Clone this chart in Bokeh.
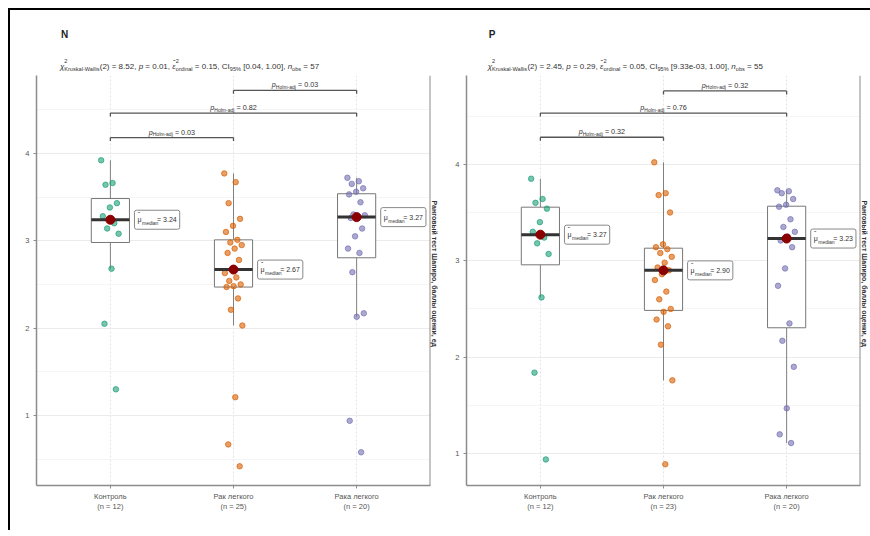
import math
import numpy as np
from bokeh.plotting import figure
from bokeh.models import Label, FixedTicker, Span, Title
from bokeh.layouts import row, column
from bokeh.embed import file_html
from bokeh.resources import INLINE

# ---------------- data ----------------
categories = ["Контроль", "Рак легкого", "Рака легкого"]
colors = ["#1B9E77", "#D95F02", "#7570B3"]

# panel N
n_control = [3.92, 3.66, 3.64, 3.43, 3.38, 3.28, 3.20, 3.14, 3.08, 2.68, 2.05, 1.30]
n_cancer = [3.77, 3.67, 3.43, 3.25, 3.17, 3.10, 3.01, 2.98, 2.95, 2.91, 2.86, 2.78, 2.67,
            2.63, 2.58, 2.54, 2.50, 2.48, 2.47, 2.34, 2.21, 2.03, 1.21, 0.67, 0.42]
n_cancer2 = [3.72, 3.68, 3.65, 3.60, 3.56, 3.53, 3.44, 3.30, 3.29, 3.28, 3.26, 3.14, 3.05,
             2.91, 2.86, 2.64, 2.17, 2.13, 0.94, 0.58]
n_pairs_p = ["0.03", "0.82", "0.03"]
n_stats = ["8.52", "0.01", "0.15", "[0.04, 1.00]", "57"]

# panel P
p_control = [3.85, 3.64, 3.60, 3.54, 3.40, 3.30, 3.24, 3.18, 3.07, 2.62, 1.84, 0.94]
p_cancer = [4.02, 3.70, 3.68, 3.50, 3.17, 3.14, 3.12, 3.08, 3.04, 2.98, 2.93, 2.90, 2.86,
            2.80, 2.68, 2.60, 2.50, 2.47, 2.39, 2.32, 2.13, 1.76, 0.89]
p_cancer2 = [3.73, 3.72, 3.70, 3.64, 3.58, 3.56, 3.43, 3.35, 3.30, 3.25, 3.21, 3.14, 2.92,
             2.74, 2.35, 2.17, 1.90, 1.47, 1.20, 1.11]
p_pairs_p = ["0.32", "0.76", "0.32"]
p_stats = ["2.45", "0.29", "0.05", "[9.33e-03, 1.00]", "55"]

pairs = [(1, 2), (1, 3), (2, 3)]
y_tick_values = [1, 2, 3, 4]
side_title = "Ранговый тест Шапиро, баллы оценки, ед"

FONT = "Liberation Sans"
NB = "\u00a0"

# Arial / Liberation Sans advance widths (per 1000 em)
AW = {' ': 278, '!': 278, '(': 333, ')': 333, ',': 278, '-': 333, '.': 278, '=': 584,
      '[': 278, ']': 278, '%': 889, ':': 278, NB: 278,
      'a': 556, 'b': 556, 'c': 500, 'd': 556, 'e': 556, 'f': 278, 'g': 556, 'h': 556,
      'i': 222, 'j': 222, 'k': 500, 'l': 222, 'm': 833, 'n': 556, 'o': 556, 'p': 556,
      'q': 556, 'r': 333, 's': 500, 't': 278, 'u': 556, 'v': 500, 'w': 722, 'x': 500,
      'y': 500, 'z': 500, 'A': 667, 'B': 667, 'C': 722, 'D': 722, 'E': 667, 'F': 611,
      'G': 778, 'H': 722, 'I': 278, 'K': 667, 'L': 556, 'M': 833, 'N': 722, 'O': 778,
      'P': 667, 'R': 722, 'S': 667, 'T': 611, 'W': 944, 'χ': 520, 'ε': 450, 'μ': 576}
for d in "0123456789":
    AW[d] = 556


def tw(s, size):
    return sum(AW.get(c, 556) for c in s) * size / 1000.0


def rich(p, x, y, pieces, size, ppu, align="left", color="#333333"):
    """Pieces of text with sub/superscripts; kinds: n, i, b, sub, sup, hat."""
    small = size * 0.7
    pieces = [(t.replace(" ", NB), k) for t, k in pieces]
    widths = []
    for t, k in pieces:
        s = small if k in ("sub", "sup") else size
        widths.append(0 if k in ("sup", "hat") else tw(t, s))
    total = sum(widths)
    off = -total / 2 if align == "center" else 0.0
    prev_w = 0.0
    for (t, k), w in zip(pieces, widths):
        s = small if k in ("sub", "sup") else size
        dy = {"sub": -0.28 * size, "sup": 0.75 * size, "hat": 0.45 * size}.get(k, 0.0)
        fs = "italic" if k == "i" else ("bold" if k == "b" else "normal")
        xo = off - prev_w * 0.8 if k == "hat" else off
        p.add_layout(Label(x=x, y=y + dy / ppu, x_offset=xo, text=t,
                           text_font=FONT, text_font_size=f"{s:.1f}px",
                           text_font_style=fs, text_color=color,
                           text_align="left", text_baseline="alphabetic"))
        off += w
        if k not in ("sup", "hat"):
            prev_w = w


def header(tag, stats, width, left):
    h_h = 65
    h = figure(width=width, height=h_h, x_range=(0, width), y_range=(0, h_h),
               x_axis_type=None, y_axis_type=None, toolbar_location=None,
               output_backend="svg", min_border=0)
    h.outline_line_color = None
    h.border_fill_color = "white"
    h.add_layout(Label(x=left + 1, y=h_h - 34 + 10, text=tag, text_font=FONT,
                       text_font_size="10px", text_font_style="bold", text_color="#222222",
                       text_baseline="alphabetic"))
    chi, pv, eps, ci, nobs = stats
    rich(h, left, h_h - 66 + 10,
         [("χ", "i"), ("2", "sup"), ("Kruskal-Wallis", "sub"), (f"(2) = {chi}, ", "n"),
          ("p", "i"), (f" = {pv}, ", "n"), ("ε", "i"), ("ˆ", "hat"), ("2", "sup"),
          ("ordinal", "sub"), (f" = {eps}, CI", "n"), ("95%", "sub"),
          (f" {ci}, ", "n"), ("n", "i"), ("obs", "sub"), (f" = {nobs}", "n")],
         8.0, 1.0, color="#333333")
    return h


def panel(groups, pvals, y_rng, bracket_vals, width, bl, br):
    top_b, bot_b, height = 0, 45, 455
    frame_h = height - top_b - bot_b
    frame_w = width - bl - br
    x0, x1 = 0.4, 3.6
    ppu = frame_h / (y_rng[1] - y_rng[0])
    ppx = frame_w / (x1 - x0)

    p = figure(width=width, height=height, x_range=(x0, x1), y_range=y_rng,
               output_backend="svg", toolbar_location=None,
               min_border_left=bl, min_border_right=br,
               min_border_top=top_b, min_border_bottom=bot_b)
    p.outline_line_color = None
    p.background_fill_color = "white"
    p.border_fill_color = "white"

    # axes
    p.xaxis.ticker = FixedTicker(ticks=[1, 2, 3])
    p.xaxis.major_label_overrides = {
        i + 1: f"{categories[i]}\n(n = {len(groups[i])})" for i in range(3)}
    p.yaxis.ticker = FixedTicker(ticks=y_tick_values,
                                 minor_ticks=[v + 0.5 for v in [0] + y_tick_values])
    for ax in (p.xaxis, p.yaxis):
        ax.axis_line_color = "#8C8C8C"
        ax.axis_line_width = 1.5
        ax.major_tick_line_color = "#8C8C8C"
        ax.major_tick_in = 0
        ax.major_tick_out = 3
        ax.minor_tick_line_color = None
        ax.major_label_text_font = FONT
        ax.major_label_text_font_size = "7.5px"
        ax.major_label_text_color = "#555555"
    p.xaxis.major_label_standoff = 3
    p.yaxis.major_label_standoff = 3
    p.add_layout(Span(location=x1, dimension="height", line_color="#8C8C8C", line_width=2))
    p.add_layout(Title(text=side_title, align="left", text_font=FONT,
                       text_font_size="7px", text_font_style="bold",
                       text_color="#333333", standoff=1, offset=125), "right")

    p.xgrid.grid_line_color = "#E3E3E3"
    p.xgrid.grid_line_dash = "2 2"
    p.ygrid.grid_line_color = "#EBEBEB"
    p.ygrid.minor_grid_line_color = "#F5F5F5"

    hw = 0.155
    for gi, vals in enumerate(groups):
        gx = gi + 1
        v = np.array(vals, dtype=float)
        q1, med, q3 = np.percentile(v, [25, 50, 75])
        iqr = q3 - q1
        up = v[v <= q3 + 1.5 * iqr].max()
        lo = v[v >= q1 - 1.5 * iqr].min()
        p.segment(x0=[gx, gx], y0=[q3, q1], x1=[gx, gx], y1=[up, lo],
                  line_color="#808080", line_width=1)
        p.quad(left=gx - hw, right=gx + hw, bottom=q1, top=q3,
               fill_color="white", line_color="#777777", line_width=1)
        jit = [(((i * 0.6180339) % 1.0) - 0.5) * 0.15 for i in range(len(vals))]
        p.scatter(x=[gx + j for j in jit], y=vals, size=5.5, fill_color=colors[gi],
                  fill_alpha=0.6, line_color=colors[gi], line_alpha=0.7)
        p.segment(x0=gx - hw, y0=med, x1=gx + hw, y1=med, line_color="#333333",
                  line_width=3)
        p.scatter(x=[gx], y=[med], size=9, fill_color="#8B0000", line_color="#8B0000")
        # median label
        fsz = 7.0
        pad_h = 3
        off = (hw * ppx) + 5
        p.add_layout(Label(x=gx, y=med, x_offset=off,
                           text="μ" + NB * 8 + f"= {med:.2f}",
                           text_font=FONT, text_font_size=f"{fsz}px", text_color="#333333",
                           text_baseline="middle", text_align="left",
                           background_fill_color="white", border_line_color="#888888",
                           border_line_width=1,
                           padding={"left": pad_h, "right": pad_h, "top": 6, "bottom": 6},
                           border_radius=2))
        p.add_layout(Label(x=gx, y=med + 5 / ppu, x_offset=off + pad_h + 0.4,
                           text="ˆ", text_font=FONT, text_font_size="7px",
                           text_color="#333333", text_baseline="middle", text_align="left"))
        p.add_layout(Label(x=gx, y=med - 3.5 / ppu,
                           x_offset=off + pad_h + tw("μ", fsz) + 0.5,
                           text="median", text_font=FONT, text_font_size="5px",
                           text_color="#333333", text_baseline="middle", text_align="left"))

    # brackets
    for (a, b), yb, pv in zip(pairs, bracket_vals, pvals):
        tick = 3.5 / ppu
        p.segment(x0=[a, a, b], y0=[yb, yb, yb], x1=[b, a, b], y1=[yb, yb - tick, yb - tick],
                  line_color="#555555", line_width=1.3)
        rich(p, (a + b) / 2, yb + 5.5 / ppu,
             [("p", "i"), ("Holm-adj", "sub"), (f" = {pv}", "n")], 7.2, ppu,
             align="center")
    return p


W1, W2 = 434, 426
h1 = header("N", n_stats, W1, 26)
p1 = panel([n_control, n_cancer, n_cancer2], n_pairs_p,
           (0.2, 4.89), [4.18, 4.46, 4.72], W1, 26, 14)
h2 = header("P", p_stats, W2, 23)
p2 = panel([p_control, p_cancer, p_cancer2], p_pairs_p,
           (0.67, 4.92), [4.28, 4.53, 4.76], W2, 22, 10)

layout = row(column(h1, p1), column(h2, p2), margin=(8, 0, 0, 8),
             styles={"border-top": "2px solid black", "border-left": "2px solid black"})

open("out.html", "w").write(file_html(layout, INLINE))
